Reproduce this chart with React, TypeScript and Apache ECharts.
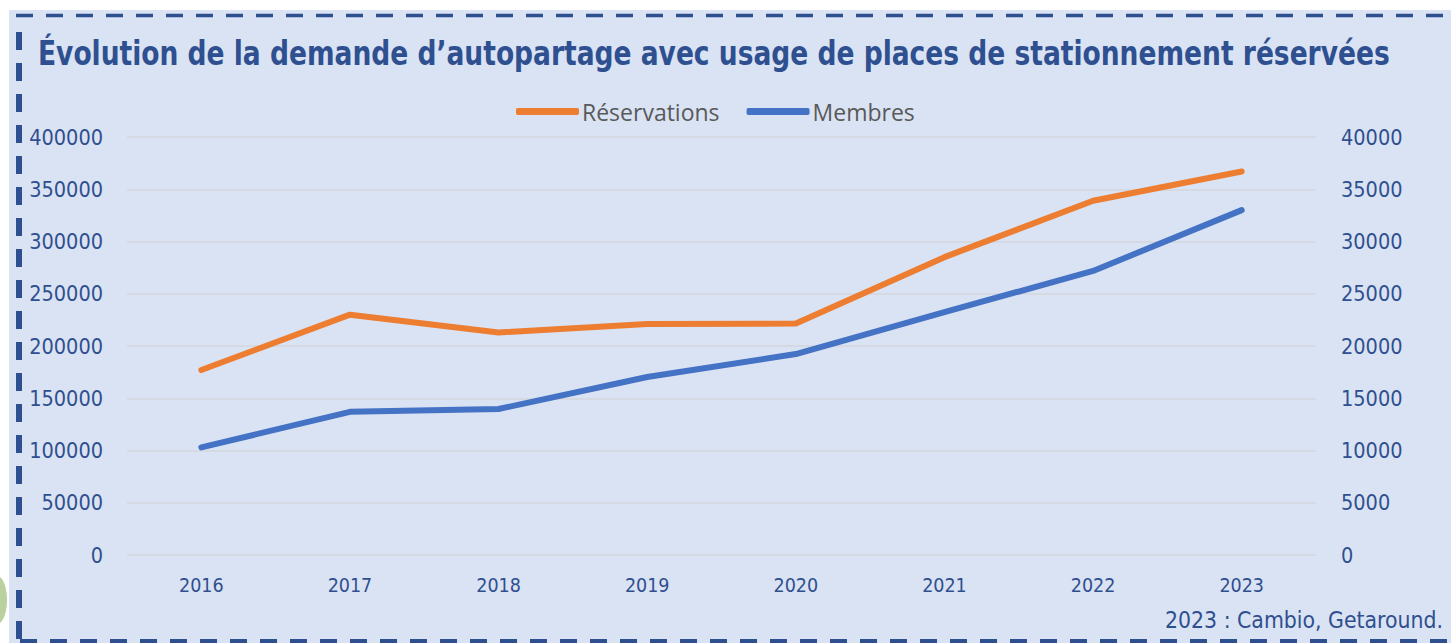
import React, { useEffect, useRef } from "react";
import * as echarts from "echarts";

const years = ["2016", "2017", "2018", "2019", "2020", "2021", "2022", "2023"];
const reservations = [177000, 230000, 213000, 221000, 221500, 285000, 339000, 367000];
const membres = [10300, 13700, 13970, 17030, 19230, 23250, 27180, 33000];

const TITLE = "Évolution de la demande d’autopartage avec usage de places de stationnement réservées";
const SOURCE = "2023 : Cambio, Getaround.";

const NARROW = "'DejaVu Sans Condensed', 'DejaVu Sans', sans-serif";
const AXIS_COLOR = "#2f4f8f";

function measure(font: string, text: string): number {
  const ctx = document.createElement("canvas").getContext("2d");
  if (!ctx) return 0;
  ctx.font = font;
  return ctx.measureText(text).width;
}

export default function App() {
  const ref = useRef<HTMLDivElement>(null);
  useEffect(() => {
    if (!ref.current) return;
    const chart = echarts.init(ref.current, undefined, { renderer: "svg" });
    const W = 1451;
    const H = 643;
    const titleW = measure(`bold 34px 'DejaVu Sans Condensed'`, TITLE) || 1352;
    const titleScale = 1352 / titleW;
    const srcW = measure(`23px 'DejaVu Sans Condensed'`, SOURCE) || 278;
    const srcScale = 278 / srcW;
    chart.setOption({
      animation: false,
      backgroundColor: "#dae3f3",
      legend: {
        left: 511,
        top: 95,
        itemWidth: 63,
        itemHeight: 7,
        itemGap: 27,
        icon: "roundRect",
        textStyle: { fontFamily: "'Open Sans', sans-serif", fontSize: 23, color: "#595959", padding: [0, 0, 0, -2] },
        data: ["Réservations", "Membres"],
      },
      grid: { left: 127, right: 135, top: 137, bottom: 88, containLabel: false },
      xAxis: {
        type: "category",
        data: years,
        boundaryGap: true,
        axisLine: { show: false },
        axisTick: { show: false },
        axisLabel: { margin: 20, fontFamily: NARROW, fontSize: 19.5, color: AXIS_COLOR },
      },
      yAxis: [
        {
          type: "value",
          min: 0,
          max: 400000,
          interval: 50000,
          axisLine: { show: false },
          axisTick: { show: false },
          splitLine: { lineStyle: { color: "#d3d6db", width: 1.5 } },
          axisLabel: {
            margin: 24,
            fontFamily: NARROW,
            fontSize: 21.5,
            color: AXIS_COLOR,
            formatter: (v: number) => String(v),
          },
        },
        {
          type: "value",
          min: 0,
          max: 40000,
          interval: 5000,
          position: "right",
          axisLine: { show: false },
          axisTick: { show: false },
          splitLine: { show: false },
          axisLabel: {
            margin: 25,
            fontFamily: NARROW,
            fontSize: 21.5,
            color: AXIS_COLOR,
            formatter: (v: number) => String(v),
          },
        },
      ],
      series: [
        {
          name: "Réservations",
          type: "line",
          data: reservations,
          yAxisIndex: 0,
          symbol: "none",
          lineStyle: { color: "#ed7d31", width: 6, cap: "round", join: "round" },
          itemStyle: { color: "#ed7d31" },
        },
        {
          name: "Membres",
          type: "line",
          data: membres,
          yAxisIndex: 1,
          symbol: "none",
          lineStyle: { color: "#4472c4", width: 6, cap: "round", join: "round" },
          itemStyle: { color: "#4472c4" },
        },
      ],
      graphic: [
        { type: "rect", shape: { x: 0, y: 0, width: W, height: 10 }, style: { fill: "#ffffff" }, silent: true },
        { type: "rect", shape: { x: 0, y: 0, width: 9, height: H }, style: { fill: "#ffffff" }, silent: true },
        { type: "ellipse", shape: { cx: -3, cy: 600, rx: 10, ry: 24 }, style: { fill: "#b9d19f" }, silent: true },
        {
          type: "line",
          shape: { x1: 16, y1: 15.5, x2: W, y2: 15.5 },
          style: { stroke: "#2f5090", lineWidth: 3.5, lineDash: [17, 13] },
          silent: true,
        },
        {
          type: "line",
          shape: { x1: 19, y1: 32, x2: 19, y2: 641 },
          style: { stroke: "#2f5090", lineWidth: 6, lineDash: [18, 13] },
          silent: true,
        },
        {
          type: "line",
          shape: { x1: 20, y1: 641, x2: W, y2: 641 },
          style: { stroke: "#2f5090", lineWidth: 4, lineDash: [17, 13] },
          silent: true,
        },
        {
          type: "text",
          x: 38,
          y: 53,
          scaleX: titleScale,
          style: {
            text: TITLE,
            fontFamily: "'DejaVu Sans Condensed'",
            fontWeight: "bold",
            fontSize: 34,
            fill: "#2f5090",
            verticalAlign: "middle",
            align: "left",
          },
          silent: true,
        },
        {
          type: "text",
          x: 1443,
          y: 620,
          scaleX: srcScale,
          style: {
            text: SOURCE,
            fontFamily: "'DejaVu Sans Condensed'",
            fontSize: 23,
            fill: AXIS_COLOR,
            verticalAlign: "middle",
            align: "right",
          },
          silent: true,
        },
      ],
    });
    return () => chart.dispose();
  }, []);
  return (
    <div
      ref={ref}
      style={{ position: "absolute", left: 0, top: 0, width: 1451, height: 643 }}
    />
  );
}
